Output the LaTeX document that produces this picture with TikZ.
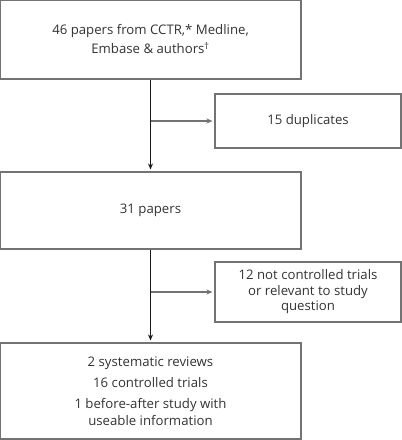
\documentclass[tikz,border=0pt]{standalone}
\usepackage{fontspec}
\setmainfont{Open Sans}
\usetikzlibrary{arrows, arrows.meta}
\usetikzlibrary{calc}
\tikzset{
  flowbox/.style={draw=black!55, line width=1.1pt, align=center, text=black!80,
    inner sep=0pt, font=\fontsize{13.2}{19}\selectfont},
  flowarrow/.style={-{Stealth[length=6pt, width=5pt]}, line width=1.2pt, shorten >=2pt}
}
\begin{document}
\begin{tikzpicture}[x=1pt, y=1pt]
      \useasboundingbox (0,0) rectangle (402,-440);
      \node[flowbox, minimum width=301pt, minimum height=79pt] (src) at (150.5,-39.5) {46 papers from CCTR,* Medline,\\Embase \& authors\textsuperscript{†}};
      \node[flowbox, minimum width=186pt, minimum height=54pt] (dup) at (308,-121) {15 duplicates};
      \node[flowbox, minimum width=301pt, minimum height=77pt] (papers) at (150.5,-210.5) {31 papers};
      \node[flowbox, minimum width=186pt, minimum height=60pt, font=\fontsize{13.2}{15.5}\selectfont] (excl) at (308,-292) {12 not controlled trials\\or relevant to study\\question};
      \node[flowbox, minimum width=301pt, minimum height=96pt, font=\fontsize{13.2}{17}\selectfont] (incl) at (150.5,-391) {2 systematic reviews\\[4.5pt]16 controlled trials\\[4pt]1 before-after study with\\useable information};

      \draw[flowarrow, black!90] (src) -- (papers);
      \draw[flowarrow, black!55] (src.south |- dup.west) -- (dup.west);
      \draw[flowarrow, black!90] (papers) -- (incl);
      \draw[flowarrow, black!55] (papers.south |- excl.west) -- (excl.west);
    \end{tikzpicture}
\end{document}
